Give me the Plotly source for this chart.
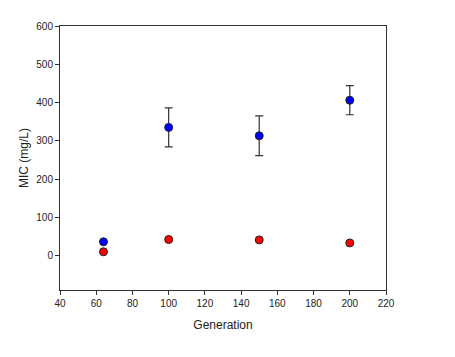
import plotly.graph_objects as go

generation = [64, 100, 150, 200]
mic_blue = [36, 335, 313, 406]
mic_blue_err = [0, 51, 52, 38]
mic_red = [10, 42, 41, 33]

x_ticks = [40, 60, 80, 100, 120, 140, 160, 180, 200, 220]
y_ticks = [0, 100, 200, 300, 400, 500, 600]

fig = go.Figure()
fig.add_trace(go.Scatter(
    x=generation, y=mic_red, mode="markers",
    marker=dict(color="#ff0000", size=8, line=dict(color="#222222", width=1)),
    showlegend=False))
fig.add_trace(go.Scatter(
    x=generation, y=mic_blue, mode="markers",
    error_y=dict(type="data", array=mic_blue_err, visible=True,
                 color="#333333", thickness=1.2, width=4),
    marker=dict(color="#0000ff", size=8, line=dict(color="#222222", width=1)),
    showlegend=False))

axis_common = dict(showline=True, linecolor="#333333", linewidth=1, mirror=True,
                   ticks="outside", ticklen=4, tickcolor="#333333",
                   showgrid=False, zeroline=False,
                   tickfont=dict(family="Liberation Sans, Arial", size=10, color="#222222"))

fig.update_xaxes(range=[40, 220], tickvals=x_ticks,
                 title=dict(text="Generation", font=dict(family="Liberation Sans, Arial", size=12, color="#222222"), standoff=12),
                 **axis_common)
fig.update_yaxes(range=[-90, 600], tickvals=y_ticks,
                 title=dict(text="MIC (mg/L)", font=dict(family="Liberation Sans, Arial", size=12, color="#222222"), standoff=5),
                 **axis_common)

fig.update_layout(width=455, height=357, margin=dict(l=52, r=77, t=18, b=75),
                  plot_bgcolor="white", paper_bgcolor="white")
fig.write_html("out.html")
